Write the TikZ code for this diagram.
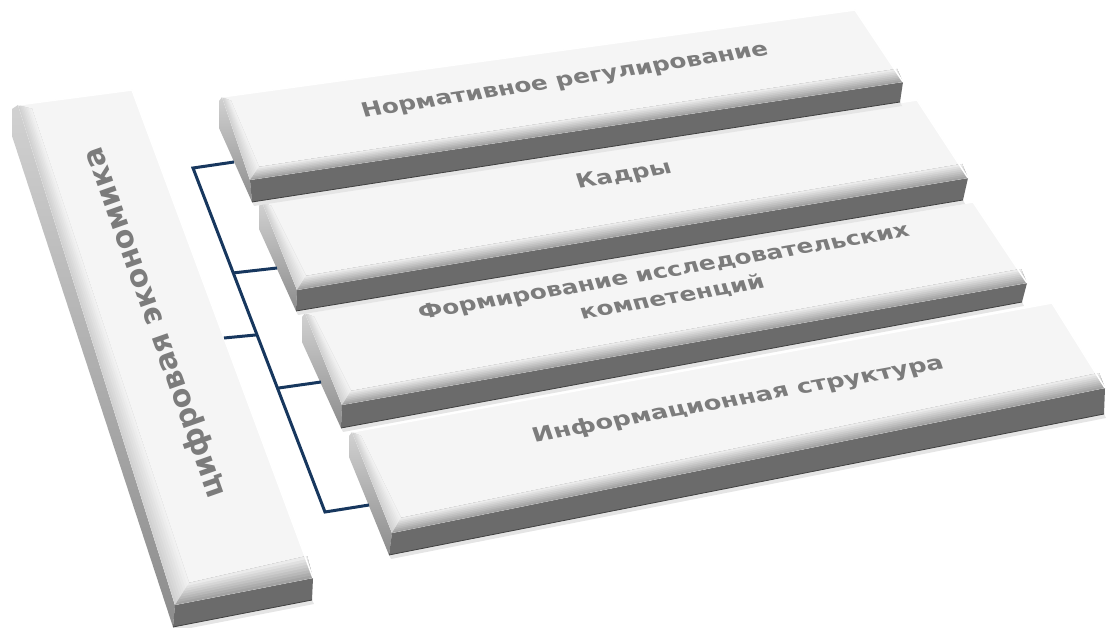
\documentclass[tikz,border=0pt]{standalone}
\usepackage{fontspec}
\setmainfont{DejaVu Sans}
\usetikzlibrary{calc}
\definecolor{linkblue}{HTML}{17375E}
\definecolor{txtface}{HTML}{7C7C7C}

\begin{document}
\begin{tikzpicture}[x=1pt,y=-1pt,
    link/.style={draw=linkblue, line width=3, line join=miter},
    bartext/.style={xslant=-0.15, xscale=1.22, text=txtface, font=\bfseries\fontsize{20}{27}\selectfont, align=center, inner sep=0pt},
    sidetext/.style={text=txtface, font=\bfseries\fontsize{30}{34}\selectfont, inner sep=0pt}]
    \useasboundingbox (0,0) rectangle (1107,628);

    % Corners of the slabs: A, B back edge, C, D front edge,
    % E, F foot of the front face, P, Q outer edge of the end face
    \coordinate (A0) at (18,105);   \coordinate (B0) at (132,90);
    \coordinate (C0) at (313,578);  \coordinate (D0) at (175,605);
    \coordinate (E0) at (312,600);  \coordinate (F0) at (173,627);
    \coordinate (P0) at (12,109);   \coordinate (Q0) at (12,136);

    \coordinate (A1) at (222,97);   \coordinate (B1) at (855,10);
    \coordinate (C1) at (903,82);   \coordinate (D1) at (250,180);
    \coordinate (E1) at (900,102);  \coordinate (F1) at (252,202);
    \coordinate (P1) at (219,101);  \coordinate (Q1) at (219,128);

    \coordinate (A2) at (262,202);  \coordinate (B2) at (917,100);
    \coordinate (C2) at (968,178);  \coordinate (D2) at (297,290);
    \coordinate (E2) at (963,200);  \coordinate (F2) at (296,311);
    \coordinate (P2) at (259,206);  \coordinate (Q2) at (259,229);

    \coordinate (A3) at (305,313);  \coordinate (B3) at (973,202);
    \coordinate (C3) at (1027,283); \coordinate (D3) at (342,405);
    \coordinate (E3) at (1022,302); \coordinate (F3) at (341,428);
    \coordinate (P3) at (302,317);  \coordinate (Q3) at (302,342);

    \coordinate (A4) at (352,432);  \coordinate (B4) at (1052,303);
    \coordinate (C4) at (1105,388); \coordinate (D4) at (392,533);
    \coordinate (E4) at (1104,414); \coordinate (F4) at (389,555);
    \coordinate (P4) at (349,436);  \coordinate (Q4) at (349,457);

    % Draw the slabs, lowest first
    \foreach \i/\lw/\fw in {0/14/22,4/9/15,3/9/14,2/9/14,1/9/13} {
        \fill[black!10] (F\i) -- (E\i) -- ($(E\i)+(2,4)$) -- ($(F\i)+(2,4)$) -- cycle;
        \shade[top color=black!18, bottom color=black!45] (P\i) -- (Q\i) -- (F\i) -- (D\i) -- (A\i) -- cycle;
        \fill[black!58] (D\i) -- (C\i) -- (E\i) -- (F\i) -- cycle;
        \draw[black!75, line width=0.8] (F\i) -- (E\i);
        \fill[black!4] (A\i) -- (B\i) -- (C\i) -- (D\i) -- cycle;
        \coordinate (ai) at ($(A\i)+(\lw,4)$);
        \coordinate (ci) at ($(C\i)+(-6,-\fw)$);
        \coordinate (di) at ($(D\i)+(\lw,-\fw)$);
        % bevels
        \foreach \k in {0,...,7} {
            \pgfmathsetmacro\ta{\k/8}
            \pgfmathsetmacro\sideshade{18-1.8*\k}
            \pgfmathsetmacro\frontshade{36-4*\k}
            \fill[black!\sideshade] ($(A\i)!\ta!(ai)$) -- ($(D\i)!\ta!(di)$) -- (di) -- (ai) -- cycle;
            \fill[black!\frontshade] ($(D\i)!\ta!(di)$) -- ($(C\i)!\ta!(ci)$) -- (ci) -- (di) -- cycle;
        }
        \draw[white, line width=1.5] (A\i) -- (B\i) -- (C\i);
    }

    % Add labels
    \node[sidetext, rotate=109.5] (t0) at (155,323) {цифровая экономика};
    \node[rotate=8.8, bartext] (t1) at (565,81) {Нормативное регулирование};
    \node[rotate=9.2, bartext] (t2) at (624,176) {Кадры};
    \node[rotate=9.7, bartext] (t3) at (668,285) {Формирование исследовательских\\компетенций};
    \node[rotate=10.2, bartext, xscale=1.04] (t4) at (738,400) {Информационная структура};

    % Connect the slabs
    \coordinate (s0) at (224,338);
    \coordinate (s1) at (234,162);
    \coordinate (s2) at (277,268);
    \coordinate (s3) at (321,382);
    \coordinate (s4) at (369,505);
    \coordinate (j1) at (193,168);
    \coordinate (j4) at (325,512);
    \coordinate (j2) at ($(j1)!0.305!(j4)$);
    \coordinate (j0) at ($(j1)!0.485!(j4)$);
    \coordinate (j3) at ($(j1)!0.64!(j4)$);
    \draw[link] (s1) -- (j1) -- (j4) -- (s4);
    \draw[link] (j2) -- (s2);
    \draw[link] (s0) -- (j0);
    \draw[link] (j3) -- (s3);
\end{tikzpicture}
\end{document}
